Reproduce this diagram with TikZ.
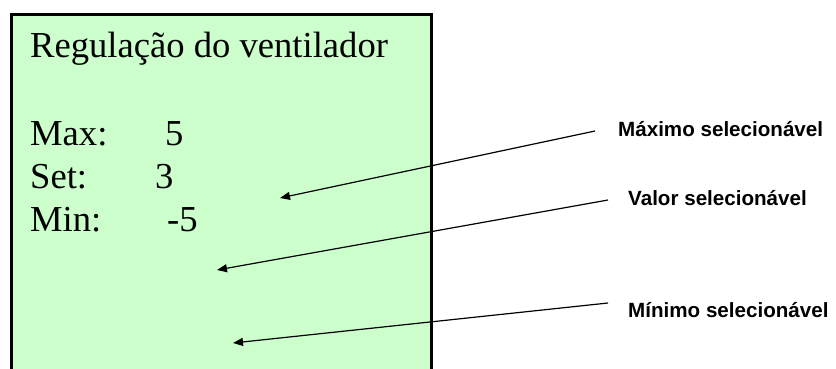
\documentclass[tikz,border=0pt]{standalone}
\usepackage{fontspec}
\setmainfont{Liberation Serif}
\newfontfamily\lblfont{Liberation Sans}
\usetikzlibrary{arrows.meta, positioning}
\definecolor{panelgreen}{HTML}{CCFFCC}

\begin{document}
\begin{tikzpicture}[
      x=1pt, y=-1pt,
      panel/.style={draw=black, line width=3pt, fill=panelgreen},
      big/.style={inner sep=0pt, anchor=base west, font=\fontsize{36.6}{43}\selectfont},
      lbl/.style={inner sep=0pt, anchor=base west, font=\lblfont\bfseries\fontsize{20.6}{24}\selectfont},
      arr/.style={-{Triangle[length=10pt, width=8pt]}, line width=1.2pt}
    ]
    \useasboundingbox (0,0) rectangle (836,369);
    \clip (0,0) rectangle (836,369);
    \fill[white] (0,0) rectangle (836,369);
    \draw[panel] (11.5,14.5) rectangle (431.5,380);
    \node[big] (title) at (30,58)  {Regulação do ventilador};
    \node[big] (maxk)  at (30,146) {Max:};
    \node[big] (maxv)  at (165,146) {5};
    \node[big] (setk)  at (30,188) {Set:};
    \node[big] (setv)  at (155,188) {3};
    \node[big] (mink)  at (30,231) {Min:};
    \node[big] (minv)  at (167,231) {-5};
    \node[lbl] (maxlbl) at (618,136) {Máximo selecionável};
    \node[lbl] (setlbl) at (628,205) {Valor selecionável};
    \node[lbl] (minlbl) at (628,317) {Mínimo selecionável};
    \coordinate (maxfrom) at (595,131);
    \coordinate (setfrom) at (608,200);
    \coordinate (minfrom) at (608,303);
    \coordinate (maxto)   at (280,198);
    \coordinate (setto)   at (217,270);
    \coordinate (minto)   at (233,343);
    \draw[arr] (maxfrom) -- (maxto);
    \draw[arr] (setfrom) -- (setto);
    \draw[arr] (minfrom) -- (minto);
  \end{tikzpicture}
\end{document}
